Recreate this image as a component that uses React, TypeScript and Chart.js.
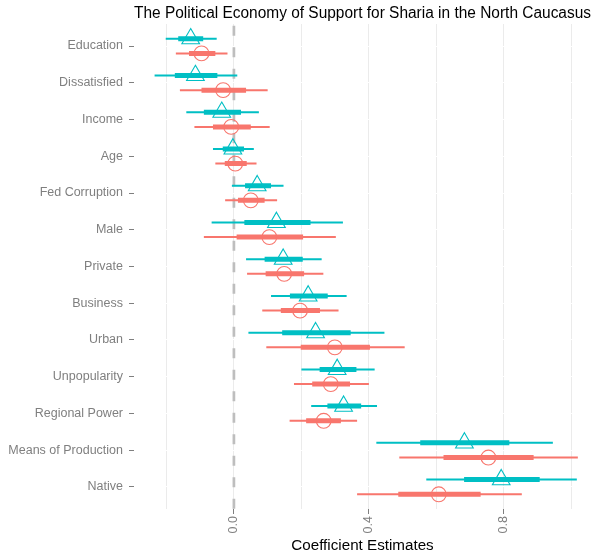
import React, { useEffect, useRef } from "react";
import { Chart, registerables } from "chart.js";

Chart.register(...registerables);

const categories = [
  "Education",
  "Dissatisfied",
  "Income",
  "Age",
  "Fed Corruption",
  "Male",
  "Private",
  "Business",
  "Urban",
  "Unpopularity",
  "Regional Power",
  "Means of Production",
  "Native",
];

// Teal series (triangles)
const tealEst = [-0.128, -0.114, -0.036, -0.003, 0.069, 0.126, 0.146, 0.22, 0.242, 0.306, 0.325, 0.683, 0.792];
const tealLoOuter = [-0.202, -0.235, -0.141, -0.062, -0.006, -0.066, 0.036, 0.11, 0.043, 0.2, 0.229, 0.422, 0.57];
const tealHiOuter = [-0.051, 0.01, 0.074, 0.059, 0.147, 0.323, 0.26, 0.334, 0.446, 0.417, 0.424, 0.945, 1.016];
const tealLoInner = [-0.165, -0.175, -0.089, -0.033, 0.033, 0.031, 0.091, 0.166, 0.143, 0.254, 0.277, 0.552, 0.682];
const tealHiInner = [-0.091, -0.049, 0.021, 0.03, 0.11, 0.227, 0.204, 0.278, 0.346, 0.363, 0.377, 0.816, 0.906];

// Red series (circles)
const redEst = [-0.096, -0.032, -0.008, 0.004, 0.05, 0.105, 0.149, 0.196, 0.299, 0.287, 0.266, 0.754, 0.607];
const redLoOuter = [-0.172, -0.16, -0.117, -0.055, -0.026, -0.089, 0.039, 0.084, 0.096, 0.178, 0.165, 0.49, 0.365];
const redHiOuter = [-0.019, 0.1, 0.106, 0.067, 0.128, 0.302, 0.265, 0.31, 0.506, 0.4, 0.365, 1.019, 0.853];
const redLoInner = [-0.133, -0.096, -0.062, -0.027, 0.012, 0.008, 0.094, 0.139, 0.198, 0.232, 0.214, 0.621, 0.487];
const redHiInner = [-0.055, 0.036, 0.05, 0.038, 0.091, 0.205, 0.208, 0.255, 0.403, 0.344, 0.317, 0.888, 0.731];

const majorXTicks = [0, 0.4, 0.8];

const TEAL = "#00BFC4";
const RED = "#F8766D";
const GREY_TEXT = "#7F7F7F";
const TEAL_OFF = -0.2;
const RED_OFF = 0.2;

function segments(lo: number[], hi: number[], off: number) {
  const out: { x: number | null; y: number | null }[] = [];
  lo.forEach((l, i) => {
    out.push({ x: l, y: i + off });
    out.push({ x: hi[i], y: i + off });
    out.push({ x: null, y: null });
  });
  return out;
}

function points(est: number[], off: number) {
  return est.map((v, i) => ({ x: v, y: i + off }));
}

export default function App() {
  const ref = useRef<HTMLCanvasElement | null>(null);

  useEffect(() => {
    document.body.style.margin = "0";
    Chart.defaults.font.family = "'Liberation Sans', Arial, sans-serif";
    const canvas = ref.current;
    if (!canvas) return;

    const lineDs = (data: any[], color: string, width: number, order: number) => ({
      type: "scatter" as const,
      data,
      showLine: true,
      borderColor: color,
      backgroundColor: color,
      borderWidth: width,
      borderCapStyle: "butt",
      pointRadius: 0,
      pointHoverRadius: 0,
      spanGaps: false,
      order,
    });

    const chart = new Chart(canvas, {
      type: "scatter",
      data: {
        datasets: [
          {
            data: points(tealEst, TEAL_OFF),
            pointStyle: "triangle",
            pointRadius: 10.2,
            pointBorderWidth: 1.1,
            pointBorderColor: TEAL,
            pointBackgroundColor: "rgba(0,0,0,0)",
            order: 1,
          } as any,
          {
            data: points(redEst, RED_OFF),
            pointStyle: "circle",
            pointRadius: 7.4,
            pointBorderWidth: 1.1,
            pointBorderColor: RED,
            pointBackgroundColor: "rgba(0,0,0,0)",
            order: 1,
          } as any,
          lineDs(segments(tealLoInner, tealHiInner, TEAL_OFF), TEAL, 5, 2),
          lineDs(segments(redLoInner, redHiInner, RED_OFF), RED, 5, 2),
          lineDs(segments(tealLoOuter, tealHiOuter, TEAL_OFF), TEAL, 2, 3),
          lineDs(segments(redLoOuter, redHiOuter, RED_OFF), RED, 2, 3),
          {
            ...lineDs(
              [
                { x: 0, y: -0.55 },
                { x: 0, y: categories.length - 0.4 },
              ],
              "#BEBEBE",
              2.7,
              4
            ),
            borderDash: [10, 11.5],
          } as any,
        ],
      },
      options: {
        animation: false,
        responsive: false,
        devicePixelRatio: 1,
        layout: { padding: 0, autoPadding: false },
        plugins: {
          legend: { display: false },
          tooltip: { enabled: false },
          title: {
            display: true,
            text: "The Political Economy of Support for Sharia in the North Caucasus",
            color: "#000000",
            align: "end",
            font: { size: 16, weight: "normal" },
            padding: { top: 4.3, bottom: 0.5 },
            fullSize: false,
          },
        },
        scales: {
          x: {
            type: "linear",
            min: -0.296,
            max: 1.058,
            afterFit: (s: any) => {
              s.height = 46;
              s.paddingLeft = 0;
              s.paddingRight = 0;
            },
            border: { display: false },
            grid: {
              color: "#EBEBEB",
              lineWidth: 1,
              drawTicks: true,
              tickLength: 5,
              tickColor: (ctx: any) =>
                ctx.tick && majorXTicks.some((m) => Math.abs(m - ctx.tick.value) < 1e-6)
                  ? GREY_TEXT
                  : "rgba(0,0,0,0)",
            },
            ticks: {
              stepSize: 0.2,
              includeBounds: false,
              autoSkip: false,
              minRotation: 90,
              maxRotation: 90,
              padding: 2,
              color: GREY_TEXT,
              font: { size: 12.5 },
              callback: (v: any) => {
                const n = Number(v);
                const m = majorXTicks.find((t) => Math.abs(t - n) < 1e-6);
                return m === undefined ? "" : m.toFixed(1);
              },
            },
            title: {
              display: true,
              text: "Coefficient Estimates",
              color: "#000000",
              font: { size: 15.2 },
              padding: { top: 0, bottom: 0 },
            },
          },
          y: {
            type: "linear",
            reverse: true,
            min: -0.6,
            max: categories.length - 0.4,
            afterFit: (s: any) => {
              s.width = 134;
              s.paddingTop = 0;
              s.paddingBottom = 0;
            },
            border: { display: false },
            grid: {
              color: "#FFFFFF",
              lineWidth: 1,
              drawTicks: true,
              tickLength: 5,
              tickColor: GREY_TEXT,
            },
            ticks: {
              stepSize: 1,
              includeBounds: false,
              autoSkip: false,
              padding: 6,
              color: GREY_TEXT,
              font: { size: 12.5 },
              callback: (v: any) => {
                const n = Number(v);
                return Number.isInteger(n) && categories[n] ? categories[n] : "";
              },
            },
          },
        },
      } as any,
    });

    return () => chart.destroy();
  }, []);

  return (
    <div style={{ width: 591, height: 555 }}>
      <canvas ref={ref} width={591} height={555} style={{ display: "block" }} />
    </div>
  );
}
